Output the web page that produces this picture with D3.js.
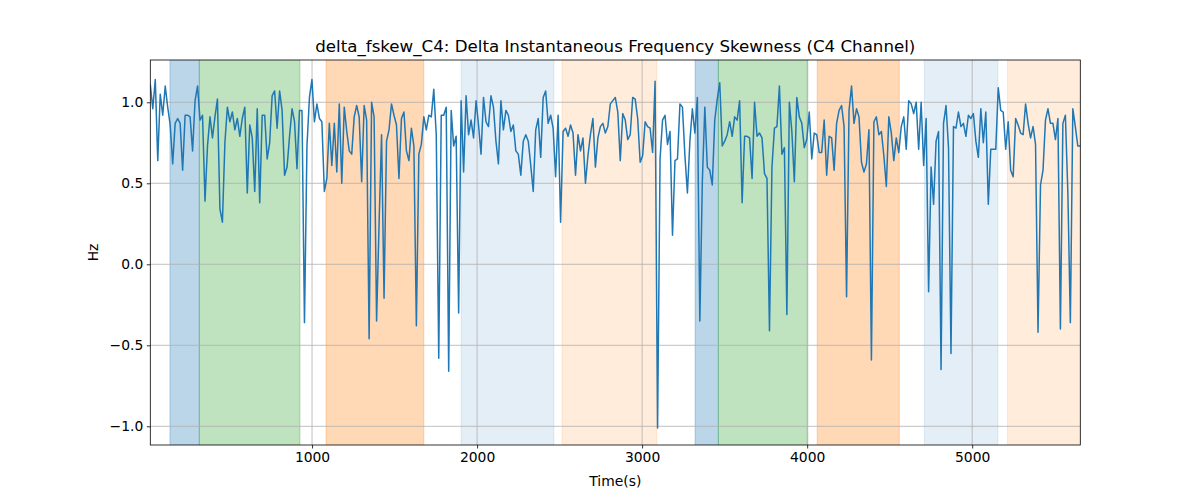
<!DOCTYPE html>
<html>
<head>
<meta charset="utf-8">
<script src="https://cdn.jsdelivr.net/npm/d3@7"></script>
<style>
  body { margin: 0; background: #fff; }
  svg { display: block; }
  text { font-family: "DejaVu Sans", sans-serif; fill: #000; }
</style>
</head>
<body>
<svg id="chart" width="1200" height="500"></svg>
<script>
// ---- data ----
const title = "delta_fskew_C4: Delta Instantaneous Frequency Skewness (C4 Channel)";
const xLabel = "Time(s)";
const yLabel = "Hz";
const timeStart = 20;
const timeEnd = 5655;
const xTicks = [1000, 2000, 3000, 4000, 5000];
const yTicks = [-1.0, -0.5, 0.0, 0.5, 1.0];

const values = [
  1.11, 0.96, 1.14, 0.64, 1.05, 0.92, 1.10, 0.97, 0.86, 0.62,
  0.87, 0.90, 0.87, 0.58, 0.92, 0.92, 0.91, 0.70, 1.01, 1.10,
  0.89, 0.92, 0.39, 0.73, 0.91, 0.78, 0.91, 1.02, 0.34, 0.26,
  0.75, 0.97, 0.88, 0.94, 0.83, 0.90, 0.79, 0.90, 0.97, 0.44,
  0.86, 0.78, 0.45, 0.96, 0.38, 0.92, 0.92, 0.65, 0.75, 1.04,
  1.07, 0.84, 1.07, 0.95, 0.55, 0.60, 0.79, 0.96, 0.88, 0.59,
  0.95, 0.95, -0.36,
  0.73, 1.03, 1.14, 0.88, 0.99, 0.90, 0.88, 0.45, 0.53, 0.87,
  0.61, 0.87, 0.57, 0.99, 0.50, 0.97, 0.82, 0.70, 0.68, 0.91,
  0.98, 0.91, 0.51, 0.98, 0.89, -0.46, 1.00, 0.91, -0.35,
  0.25, 0.80, -0.21, 0.76, 0.83, 0.99, 0.92, 0.86, 0.53, 0.90,
  0.94, 0.70, 0.64, 0.84, 0.73, -0.38, 0.68, 0.74, 0.91, 0.83,
  0.92, 0.91, 1.08, 0.80, -0.58, 0.92, 0.92, 0.97, -0.66, 0.95,
  0.73, 0.79, -0.30, 1.01, 0.57, 1.04, 0.80, 0.89, 0.78, 1.01,
  0.86, 0.68, 1.03, 0.88, 0.85, 1.04, 0.97, 0.76, 0.62, 1.01,
  0.83, 0.95, 0.92, 0.82, 0.86, 0.70, 0.68, 0.55, 0.76, 0.80,
  0.76, 0.61, 0.45, 0.83, 0.90, 0.66, 1.03, 1.07, 0.87, 0.92,
  0.84, 0.54, 0.92, 0.26, 0.82, 0.84, 0.79, 0.86, 0.81, 0.55,
  0.80, 0.70, 0.78, 0.50, 0.67, 0.80, 0.90, 0.60, 0.78, 0.85,
  0.87, 0.81, 0.85, 0.99, 1.01, 1.03, 0.94, 0.64, 0.93, 0.89,
  0.77, 0.80, 1.03, 1.02, 0.90, 0.63, 0.67, 0.88, 0.85, 0.84,
  0.69, 1.13, -1.01, 0.65, 0.89, 0.92, 0.74, 0.82, 0.18, 0.64,
  0.65, 0.99, 0.97, 0.67, 0.44, 0.76, 0.96, 0.81, 1.03, -0.35,
  0.51, 0.97, 0.60, 0.58, 0.49, 0.89, 1.02, 1.12, 0.73, 0.76,
  0.80, 0.88, 0.79, 0.91, 0.89, 1.01, 0.38, 0.79, 0.79, 0.78,
  0.53,
  1.00, 0.79, 0.81, 0.78, 0.56, 0.53, -0.41, 0.60, 0.84, 0.85,
  1.10, 0.68, 0.72, -0.31, 1.00, 0.82, 0.51, 1.03, 0.91, 0.87,
  0.72, 0.77, 0.94, 0.65, 0.81, 0.80, 0.69, 0.69, 0.89, 0.55,
  0.79, 0.78, 0.58, 0.87, 0.95, 0.98, 0.85, -0.20, 0.95, 1.10,
  0.87, 0.96, 0.91, 0.63, 0.57, 0.62, 0.83, -0.59, 0.88, 0.91,
  0.80, 0.82, 0.67, 0.48, 0.91, 0.81, 0.64, 0.78, 0.69, 0.85,
  0.91,
  0.71, 1.01, 0.99, 0.93, 1.00, 0.71, 1.00, 0.61, 0.90, -0.17,
  0.60, 0.37, 0.76, 0.82, -0.65, 0.87, 0.98, 0.72, -0.55, 0.85,
  0.84, 0.94, 0.85, 0.87, 0.79, 0.92, 0.90, 0.93, 0.76, 0.66,
  0.96, 0.75, 0.94, 0.37, 0.71, 0.71, 0.71, 1.09, 0.95, 0.94,
  0.71, 0.88, 0.58, 0.54, 0.90, 0.86, 0.81, 0.80, 0.99, 0.87,
  0.78, 0.85, 0.74, -0.42, 0.49, 0.58, 0.89, 0.96, 0.87, 0.87,
  0.77, 0.90, -0.40, 0.87, 0.92, 0.44, -0.36, 0.96, 0.85, 0.73,
  0.73
];

// shaded intervals
const spanStarts = [139, 317, 1085, 1903, 2515, 3321, 3462, 4061, 4710, 5214];
const spanEnds   = [317, 927, 1677, 2465, 3089, 3462, 4004, 4558, 5156, 5655];
const spanColors = ["#1f77b4", "#2ca02c", "#ff7f0e", "#1f77b4", "#ff7f0e",
                    "#1f77b4", "#2ca02c", "#ff7f0e", "#1f77b4", "#ff7f0e"];
const spanAlphas = [0.3, 0.3, 0.3, 0.12, 0.15, 0.3, 0.3, 0.3, 0.12, 0.15];

// ---- layout ----
const svg = d3.select("#chart");
const L = 150.3, R = 1080.3, T = 60, B = 445;

const step = (timeEnd - timeStart) / (values.length - 1);
const series = values.map((v, i) => ({ t: timeStart + i * step, v }));

const x = d3.scaleLinear().domain([timeStart, timeEnd]).range([L, R]);
const y = d3.scaleLinear().domain([-1.1154, 1.261]).range([B, T]);

svg.append("defs").append("clipPath").attr("id", "clip")
  .append("rect").attr("x", L).attr("y", T).attr("width", R - L).attr("height", B - T);

const plot = svg.append("g").attr("clip-path", "url(#clip)");

const spans = spanStarts.map((s, i) => ({ s, e: spanEnds[i], c: spanColors[i], a: spanAlphas[i] }));
plot.selectAll("rect.span").data(spans).enter().append("rect")
  .attr("class", "span")
  .attr("x", d => x(d.s))
  .attr("y", T - 2)
  .attr("width", d => x(d.e) - x(d.s))
  .attr("height", B - T + 4)
  .attr("fill", d => d.c)
  .attr("fill-opacity", d => d.a)
  .attr("stroke", d => d.c)
  .attr("stroke-opacity", d => d.a)
  .attr("stroke-width", 1);

plot.selectAll("line.gx").data(xTicks).enter().append("line")
  .attr("x1", d => x(d)).attr("x2", d => x(d))
  .attr("y1", T).attr("y2", B)
  .attr("stroke", "#b0b0b0").attr("stroke-width", 0.8);
plot.selectAll("line.gy").data(yTicks).enter().append("line")
  .attr("x1", L).attr("x2", R)
  .attr("y1", d => y(d)).attr("y2", d => y(d))
  .attr("stroke", "#b0b0b0").attr("stroke-width", 0.8);

plot.append("path")
  .datum(series)
  .attr("fill", "none")
  .attr("stroke", "#1f77b4")
  .attr("stroke-width", 1.5)
  .attr("stroke-linejoin", "round")
  .attr("stroke-linecap", "square")
  .attr("d", d3.line().x(d => x(d.t)).y(d => y(d.v)));

const fmtY = v => d3.format(".1f")(v).replace("-", "\u2212");
const xAxis = d3.axisBottom(x).tickValues(xTicks).tickSize(3.5).tickPadding(3.5).tickFormat(d3.format("d"));
const yAxis = d3.axisLeft(y).tickValues(yTicks).tickSize(3.5).tickPadding(3.5).tickFormat(fmtY);

const gx = svg.append("g").attr("transform", `translate(0,${B})`).call(xAxis);
const gy = svg.append("g").attr("transform", `translate(${L},0)`).call(yAxis);
[gx, gy].forEach(g => {
  g.select(".domain").remove();
  g.selectAll(".tick line").attr("stroke", "#000").attr("stroke-width", 0.8);
  g.selectAll(".tick text").attr("font-family", "DejaVu Sans").attr("font-size", "13.89px").attr("fill", "#000");
});

svg.append("rect").attr("x", L).attr("y", T).attr("width", R - L).attr("height", B - T)
  .attr("fill", "none").attr("stroke", "#000").attr("stroke-width", 0.8);

svg.append("text").attr("x", (L + R) / 2).attr("y", 52).attr("text-anchor", "middle")
  .attr("font-size", "16.67px").text(title);
svg.append("text").attr("x", (L + R) / 2).attr("y", 486).attr("text-anchor", "middle")
  .attr("font-size", "13.89px").text(xLabel);
svg.append("text").attr("transform", `translate(98,${(T + B) / 2}) rotate(-90)`)
  .attr("text-anchor", "middle").attr("font-size", "13.89px").text(yLabel);
</script>
</body>
</html>
